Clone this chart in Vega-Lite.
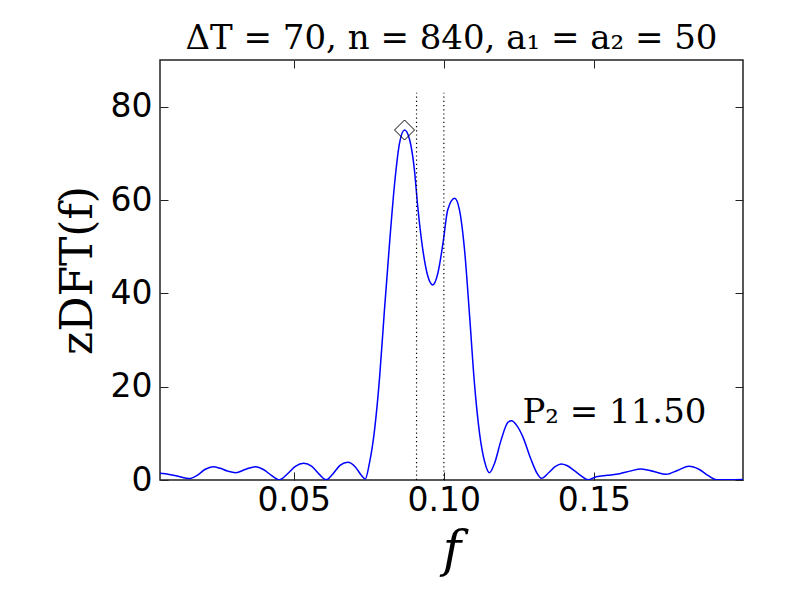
{
  "$schema": "https://vega.github.io/schema/vega-lite/v6.json",
  "autosize": "none",
  "width": 583,
  "height": 420,
  "padding": {"left": 160, "top": 60, "right": 57, "bottom": 120},
  "background": "white",
  "config": {
    "view": {"stroke": "#222", "strokeWidth": 1.5},
    "axis": {"grid": false, "domain": false, "labelFont": "DejaVu Sans", "labelFontSize": 33, "labelColor": "black", "tickColor": "#222", "tickWidth": 1, "titleColor": "black", "titleFontWeight": "normal"}
  },
  "title": {"text": "ΔT = 70, n = 840,  a₁ = a₂ = 50", "font": "DejaVu Serif", "fontSize": 34, "fontWeight": "normal", "color": "black", "offset": 4},
  "datasets": {
    "curve": [
      {"f": 0.0054, "z": 1.43}, {"f": 0.0085, "z": 1.2}, {"f": 0.012, "z": 0.7}, {"f": 0.015, "z": 0.3},
      {"f": 0.018, "z": 1.1}, {"f": 0.0205, "z": 2.3}, {"f": 0.023, "z": 2.86}, {"f": 0.0255, "z": 2.5},
      {"f": 0.028, "z": 1.9}, {"f": 0.0306, "z": 1.57}, {"f": 0.034, "z": 2.3}, {"f": 0.0372, "z": 2.86},
      {"f": 0.040, "z": 2.2}, {"f": 0.0425, "z": 1.0}, {"f": 0.0452, "z": 0.05}, {"f": 0.048, "z": 1.4},
      {"f": 0.0505, "z": 2.9}, {"f": 0.0533, "z": 3.57}, {"f": 0.056, "z": 2.9}, {"f": 0.0585, "z": 1.2},
      {"f": 0.0608, "z": 0.05}, {"f": 0.063, "z": 1.3}, {"f": 0.0655, "z": 3.2}, {"f": 0.068, "z": 3.79},
      {"f": 0.0705, "z": 2.8}, {"f": 0.0725, "z": 1.0}, {"f": 0.0738, "z": 0.2}, {"f": 0.0752, "z": 3.6},
      {"f": 0.0769, "z": 10.7}, {"f": 0.0786, "z": 22.1}, {"f": 0.0802, "z": 36.4}, {"f": 0.0819, "z": 50.7},
      {"f": 0.0836, "z": 63.6}, {"f": 0.0852, "z": 72.1}, {"f": 0.0869, "z": 75.0}, {"f": 0.0886, "z": 72.9},
      {"f": 0.0902, "z": 66.4}, {"f": 0.0913, "z": 58.6}, {"f": 0.0930, "z": 49.3}, {"f": 0.0947, "z": 43.6},
      {"f": 0.0963, "z": 41.8}, {"f": 0.0980, "z": 44.3}, {"f": 0.0997, "z": 50.7}, {"f": 0.1013, "z": 57.9},
      {"f": 0.1036, "z": 60.4}, {"f": 0.1052, "z": 57.9}, {"f": 0.1069, "z": 49.3}, {"f": 0.1086, "z": 35.0},
      {"f": 0.1102, "z": 20.7}, {"f": 0.1119, "z": 10.0}, {"f": 0.1136, "z": 3.9}, {"f": 0.1152, "z": 1.57},
      {"f": 0.1169, "z": 3.6}, {"f": 0.1191, "z": 8.6}, {"f": 0.1213, "z": 12.3}, {"f": 0.1225, "z": 12.7},
      {"f": 0.1245, "z": 11.5}, {"f": 0.1263, "z": 9.3}, {"f": 0.129, "z": 4.5}, {"f": 0.131, "z": 1.5},
      {"f": 0.1325, "z": 0.36}, {"f": 0.135, "z": 1.6}, {"f": 0.1372, "z": 2.9}, {"f": 0.1391, "z": 3.43},
      {"f": 0.141, "z": 3.1}, {"f": 0.1435, "z": 2.0}, {"f": 0.146, "z": 0.8}, {"f": 0.148, "z": 0.05},
      {"f": 0.1508, "z": 0.7}, {"f": 0.1545, "z": 1.0}, {"f": 0.1586, "z": 1.36}, {"f": 0.162, "z": 1.9},
      {"f": 0.1658, "z": 2.36}, {"f": 0.170, "z": 1.8}, {"f": 0.1741, "z": 1.21}, {"f": 0.178, "z": 2.1},
      {"f": 0.1817, "z": 2.93}, {"f": 0.185, "z": 2.3}, {"f": 0.188, "z": 1.0}, {"f": 0.1908, "z": 0.07},
      {"f": 0.195, "z": 0.05}, {"f": 0.1997, "z": 0.1}
    ],
    "lines": [{"f": 0.0909, "lo": 0, "hi": 83}, {"f": 0.1, "lo": 0, "hi": 83}],
    "peak": [{"f": 0.0869, "z": 75.0, "label": "P₂ = 11.50", "lf": 0.1262, "lz": 12.3}]
  },
  "layer": [
    {
      "data": {"name": "curve"},
      "mark": {"type": "line", "color": "#0000ff", "strokeWidth": 1.5, "interpolate": "monotone", "clip": true},
      "encoding": {
        "x": {"field": "f", "type": "quantitative", "scale": {"domain": [0.0054, 0.1997], "nice": false, "zero": false},
              "axis": {"orient": "bottom", "values": [0.05, 0.1, 0.15], "format": ".2f", "tickSize": -8, "labelPadding": 12, "title": "f", "titleFont": "DejaVu Serif", "titleFontStyle": "italic", "titleFontSize": 50, "titlePadding": 8}},
        "y": {"field": "z", "type": "quantitative", "scale": {"domain": [0, 90], "nice": false},
              "axis": {"orient": "left", "values": [0, 20, 40, 60, 80], "tickSize": -8, "labelPadding": 16, "title": "zDFT(f)", "titleFont": "DejaVu Serif", "titleFontSize": 44, "titlePadding": 10}}
      }
    },
    {
      "data": {"name": "lines"},
      "mark": {"type": "rule", "color": "black", "strokeWidth": 1.2, "strokeDash": [1.2, 3]},
      "encoding": {
        "x": {"field": "f", "type": "quantitative", "axis": {"orient": "top", "values": [0.05, 0.1, 0.15], "tickSize": -8, "labels": false, "title": null}},
        "y": {"field": "lo", "type": "quantitative", "axis": {"orient": "right", "values": [0, 20, 40, 60, 80], "tickSize": -8, "labels": false, "title": null}},
        "y2": {"field": "hi"}
      }
    },
    {
      "data": {"name": "peak"},
      "mark": {"type": "point", "shape": "diamond", "filled": false, "stroke": "black", "strokeWidth": 1, "size": 400, "opacity": 1},
      "encoding": {
        "x": {"field": "f", "type": "quantitative", "axis": null},
        "y": {"field": "z", "type": "quantitative", "axis": null}
      }
    },
    {
      "data": {"name": "peak"},
      "mark": {"type": "text", "font": "DejaVu Serif", "fontSize": 34, "align": "left", "baseline": "alphabetic", "color": "black"},
      "encoding": {
        "x": {"field": "lf", "type": "quantitative", "axis": null},
        "y": {"field": "lz", "type": "quantitative", "axis": null},
        "text": {"field": "label"}
      }
    }
  ],
  "resolve": {"axis": {"x": "independent", "y": "independent"}}
}
